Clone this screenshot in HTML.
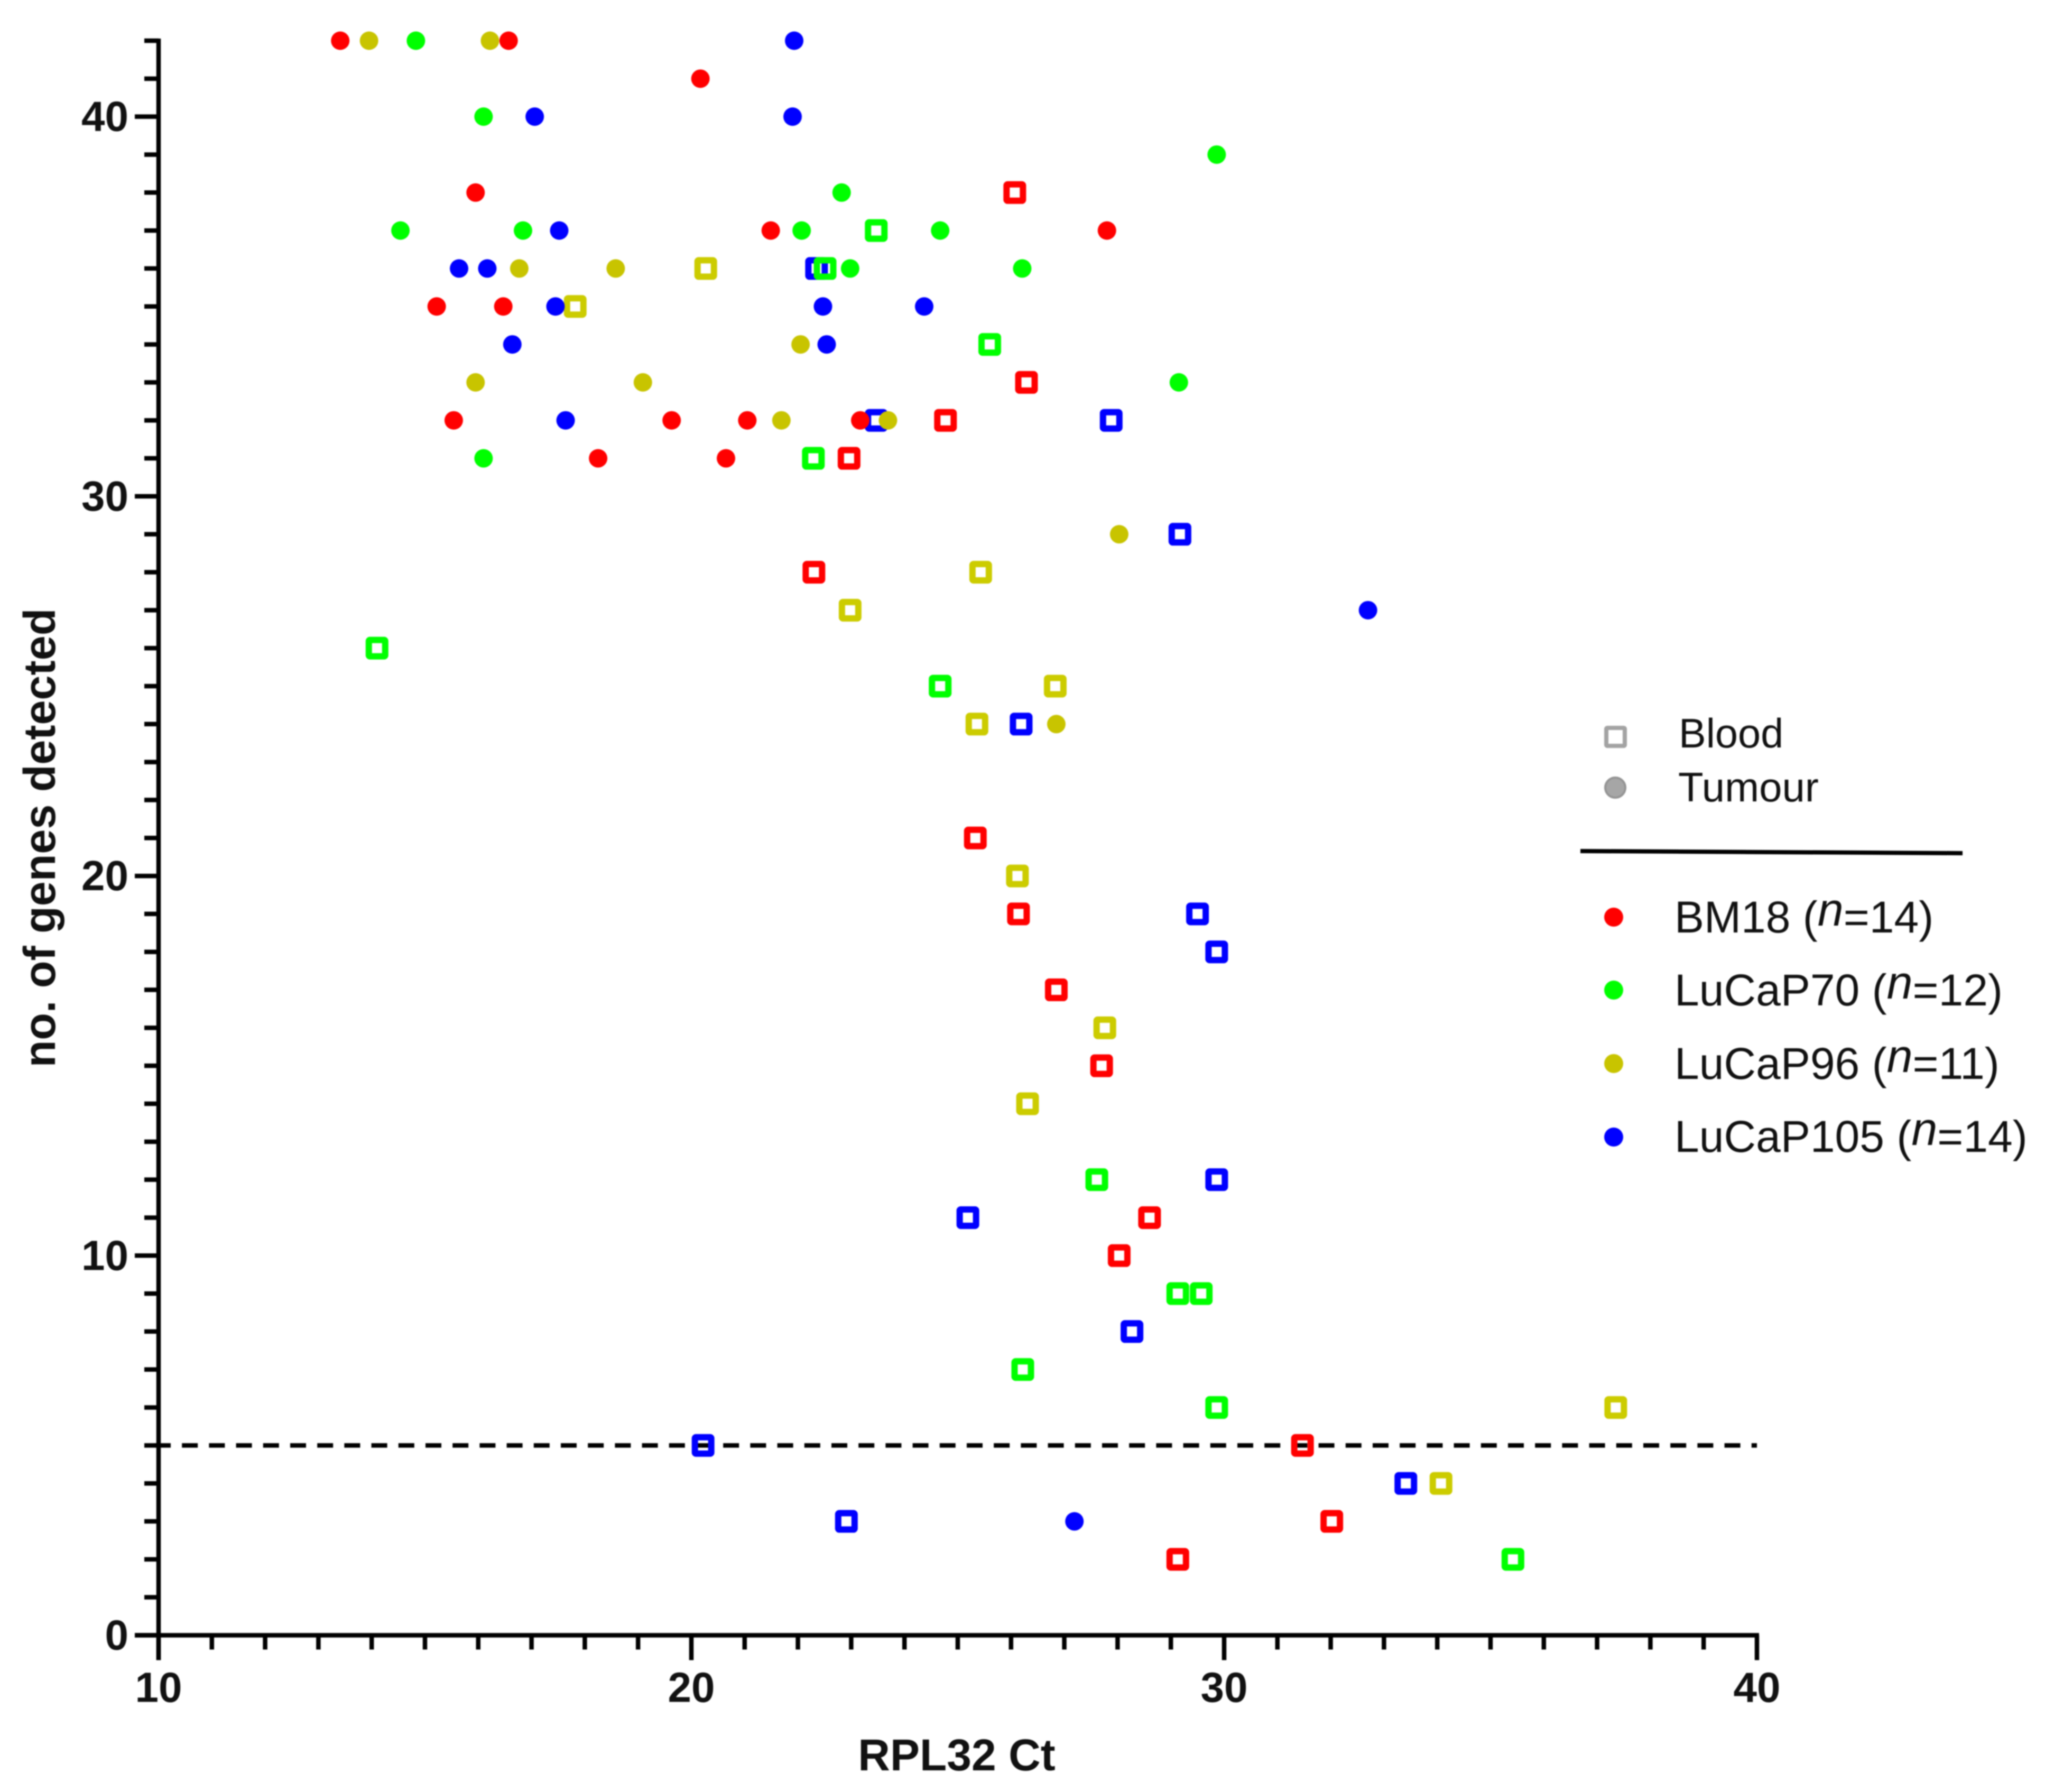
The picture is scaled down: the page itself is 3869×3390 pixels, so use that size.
<!DOCTYPE html>
<html lang="en">
<head>
<meta charset="utf-8">
<title>Genes detected versus RPL32 Ct</title>
<style>
html,body{margin:0;padding:0;background:#fff;}
svg{display:block;filter:blur(1.3px);}
text{font-family:"Liberation Sans",Arial,sans-serif;fill:#111;}
.tick-label,.axis-title{font-weight:bold;}
</style>
</head>
<body>
<svg id="chart" xmlns="http://www.w3.org/2000/svg" width="3869" height="3390" viewBox="0 0 3869 3390">
  <rect x="0" y="0" width="3869" height="3390" fill="#ffffff"/>
  <g id="axes"></g>
  <g id="threshold"></g>
  <g id="marks"></g>
  <text class="axis-title" x="1810" y="3349" font-size="84" text-anchor="middle">RPL32 Ct</text>
  <text class="axis-title" transform="translate(104,1585) rotate(-90)" font-size="84.5" text-anchor="middle">no. of genes detected</text>

  <g>
    <rect x="3039" y="1377" width="35" height="34" rx="2" fill="#ffffff" stroke="#a3a3a3" stroke-width="8"/>
    <text x="3176" y="1414" font-size="77.5">Blood</text>
    <circle cx="3056" cy="1490" r="19" fill="#a6a6a6" stroke="#949494" stroke-width="4"/>
    <text x="3175" y="1516" font-size="78">Tumour</text>
    <line x1="2990" y1="1610" x2="3713" y2="1614" stroke="#000" stroke-width="8"/>

    <circle cx="3053" cy="1735" r="18" fill="#ff0000"/>
    <text x="3168" y="1764" font-size="84">BM18 (<tspan font-style="italic" font-size="88" dy="-13">n</tspan><tspan dy="13">=14)</tspan></text>
    <circle cx="3053" cy="1873" r="18" fill="#00ff00"/>
    <text x="3168" y="1902" font-size="84">LuCaP70 (<tspan font-style="italic" font-size="88" dy="-13">n</tspan><tspan dy="13">=12)</tspan></text>
    <circle cx="3053" cy="2012" r="18" fill="#c8c400"/>
    <text x="3168" y="2041" font-size="84">LuCaP96 (<tspan font-style="italic" font-size="88" dy="-13">n</tspan><tspan dy="13">=11)</tspan></text>
    <circle cx="3053" cy="2151" r="18" fill="#0000ff"/>
    <text x="3168" y="2179" font-size="84">LuCaP105 (<tspan font-style="italic" font-size="88" dy="-13">n</tspan><tspan dy="13">=14)</tspan></text>
  </g>
</svg>

<script>
// Axis ticks
const xTickLabels = [10, 20, 30, 40];
const yTickLabels = [0, 10, 20, 30, 40];
const thresholdGenes = 5;

// Blood (open squares)
const bloodLuCaP105Ct = [22.35, 23.47, 27.88, 29.17, 26.19, 29.5, 29.86, 29.86, 25.19, 28.27, 20.22, 33.41, 22.91];
const bloodLuCaP105Genes = [36, 32, 32, 29, 24, 19, 18, 12, 11, 8, 5, 4, 3];
const bloodBM18Ct = [26.07, 26.29, 24.77, 22.96, 22.3, 25.33, 26.14, 26.85, 27.7, 28.6, 28.03, 31.47, 32.02, 29.13];
const bloodBM18Genes = [38, 33, 32, 31, 28, 21, 19, 17, 15, 11, 10, 5, 3, 2];
const bloodLuCaP96Ct = [20.27, 17.82, 25.43, 22.98, 26.83, 25.36, 26.12, 27.76, 26.31, 37.35, 34.07];
const bloodLuCaP96Genes = [36, 35, 28, 27, 25, 24, 20, 16, 14, 6, 4];
const bloodLuCaP70Ct = [23.47, 22.51, 25.6, 22.29, 14.1, 24.67, 27.61, 29.13, 29.57, 26.22, 29.86, 35.42];
const bloodLuCaP70Genes = [37, 36, 34, 31, 26, 25, 12, 9, 9, 7, 6, 2];

// Tumour (filled circles)
const tumourLuCaP96Ct = [13.95, 16.22, 16.77, 18.58, 22.05, 15.95, 19.09, 21.69, 23.69, 28.03, 26.85];
const tumourLuCaP96Genes = [42, 42, 36, 36, 34, 33, 33, 32, 32, 29, 24];
const tumourLuCaP70Ct = [14.83, 16.1, 29.86, 22.82, 14.54, 16.84, 22.07, 24.67, 22.98, 26.21, 29.15, 16.1];
const tumourLuCaP70Genes = [42, 40, 39, 38, 37, 37, 37, 37, 36, 36, 33, 31];
const tumourLuCaP105Ct = [21.93, 21.9, 17.06, 17.52, 15.64, 16.17, 17.45, 22.47, 24.37, 16.64, 22.54, 17.64, 32.7, 27.19];
const tumourLuCaP105Genes = [42, 40, 40, 37, 36, 36, 35, 35, 35, 34, 34, 32, 27, 3];
const tumourBM18Ct = [13.41, 16.57, 20.17, 15.95, 21.49, 27.8, 15.22, 16.47, 15.54, 19.63, 21.05, 23.17, 18.25, 20.65];
const tumourBM18Genes = [42, 42, 41, 38, 37, 37, 35, 35, 32, 32, 32, 32, 31, 31];

const SVG_NS = 'http://www.w3.org/2000/svg';
const xDomain = [10, 40];
const yDomain = [0, 42];
const plotLeft = 300, plotRight = 3324, plotBottom = 3093.5, plotTop = 77;

function xScale(v) {
  return plotLeft + (v - xDomain[0]) / (xDomain[1] - xDomain[0]) * (plotRight - plotLeft);
}
function yScale(v) {
  return plotBottom - (v - yDomain[0]) / (yDomain[1] - yDomain[0]) * (plotBottom - plotTop);
}
function make(tag, attrs, parent) {
  const el = document.createElementNS(SVG_NS, tag);
  Object.keys(attrs).forEach(function (k) { el.setAttribute(k, attrs[k]); });
  parent.appendChild(el);
  return el;
}

const axes = document.getElementById('axes');
const threshold = document.getElementById('threshold');
const marks = document.getElementById('marks');
const axisStyle = { stroke: '#000', 'stroke-width': 8.5 };

// Axis lines
const yAxisLine = make('line', Object.assign({ x1: plotLeft, x2: plotLeft, y1: plotTop - 4, y2: plotBottom + 47 }, axisStyle), axes);


const xAxisLine = make('line', Object.assign({ x1: plotLeft - 45, x2: plotRight + 4, y1: plotBottom, y2: plotBottom }, axisStyle), axes);



// X ticks: a tick every unit, longer and labelled at the listed values
for (let v = xDomain[0]; v <= xDomain[1]; v++) {
  const major = xTickLabels.indexOf(v) >= 0;
  const tick = make('line', Object.assign({ x1: xScale(v), x2: xScale(v), y1: plotBottom, y2: plotBottom + (major ? 47 : 27) }, axisStyle), axes);
  
  
}
xTickLabels.forEach(function (v) {
  const label = make('text', { class: 'tick-label', x: xScale(v), y: plotBottom + 126, 'font-size': 80, 'text-anchor': 'middle' }, axes);
  label.textContent = String(v);
  
  
});

// Y ticks: a tick every unit, longer and labelled at the listed values
for (let v = yDomain[0]; v <= yDomain[1]; v++) {
  const major = yTickLabels.indexOf(v) >= 0;
  const tick = make('line', Object.assign({ x1: plotLeft - (major ? 45 : 27), x2: plotLeft, y1: yScale(v), y2: yScale(v) }, axisStyle), axes);
  
  
}
yTickLabels.forEach(function (v) {
  const label = make('text', { class: 'tick-label', x: 243, y: yScale(v) + 27, 'font-size': 80, 'text-anchor': 'end' }, axes);
  label.textContent = String(v);
  
  
});

// Threshold line
const thresholdLine = make('line', { x1: 293, x2: plotRight, y1: yScale(thresholdGenes), y2: yScale(thresholdGenes), stroke: '#000', 'stroke-width': 8.5, 'stroke-dasharray': '30 21.2' }, threshold);



// Marks
function drawSquares(cts, genes, color, name) {
  cts.forEach(function (ct, i) {
    const size = 31;
    const sq = make('rect', { x: xScale(ct) - size / 2, y: yScale(genes[i]) - size / 2, width: size, height: size, rx: 2, fill: 'none', stroke: color, 'stroke-width': 12 }, marks);
    
    
  });
}
function drawCircles(cts, genes, color, name) {
  cts.forEach(function (ct, i) {
    const dot = make('circle', { cx: xScale(ct), cy: yScale(genes[i]), r: 17.5, fill: color }, marks);
    
    
  });
}
drawSquares(bloodLuCaP105Ct, bloodLuCaP105Genes, '#0000ff', 'blood-lucap105-point');
drawSquares(bloodBM18Ct, bloodBM18Genes, '#ff0000', 'blood-bm18-point');
drawSquares(bloodLuCaP96Ct, bloodLuCaP96Genes, '#cccc00', 'blood-lucap96-point');
drawSquares(bloodLuCaP70Ct, bloodLuCaP70Genes, '#00ff00', 'blood-lucap70-point');
drawCircles(tumourLuCaP96Ct, tumourLuCaP96Genes, '#c8c400', 'tumour-lucap96-point');
drawCircles(tumourLuCaP70Ct, tumourLuCaP70Genes, '#00ff00', 'tumour-lucap70-point');
drawCircles(tumourLuCaP105Ct, tumourLuCaP105Genes, '#0000ff', 'tumour-lucap105-point');
drawCircles(tumourBM18Ct, tumourBM18Genes, '#ff0000', 'tumour-bm18-point');
</script>
</body>
</html>
